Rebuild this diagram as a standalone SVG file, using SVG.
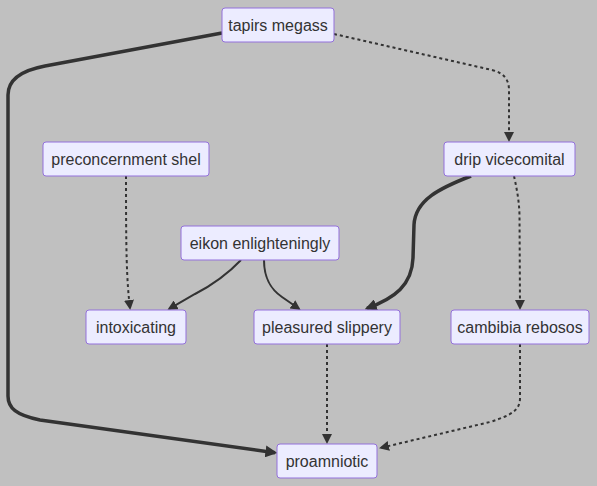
<svg xmlns="http://www.w3.org/2000/svg" width="597" height="486" viewBox="0 0 597 486">
<style>
.bg{fill:#c0c0c0}
.node rect{fill:#ececff;stroke:#9370db;stroke-width:1}
.node text{font-family:"Liberation Sans",Arial,sans-serif;font-size:16px;fill:#333;text-anchor:middle;dominant-baseline:central}
.e{fill:none;stroke:#333;stroke-width:2}
.thick{stroke-width:3.5}
.dot{stroke-dasharray:3 3}
</style>
<defs>
<marker id="arr" viewBox="0 0 10 10" refX="8" refY="5" markerUnits="userSpaceOnUse" markerWidth="10" markerHeight="10" orient="auto">
<path d="M0,0 L10,5 L0,10 z" fill="#333"/>
</marker>
<marker id="arrT" viewBox="0 0 10 10" refX="8" refY="5" markerUnits="userSpaceOnUse" markerWidth="12" markerHeight="12" orient="auto">
<path d="M0,0 L10,5 L0,10 z" fill="#333"/>
</marker>
</defs>
<rect class="bg" x="0" y="0" width="597" height="486"/>
<g id="edges">
<path class="e thick" d="M222,33 L45,66 Q8,73 8,95 L8,396 C8,408 16,415 40,420 L275,452.7" marker-end="url(#arrT)"/>
<path class="e dot" d="M334,34 L492,70 Q509,74 509,90 L509,140" marker-end="url(#arr)"/>
<path class="e dot" d="M126,176 C126,250 126.5,280 130,308" marker-end="url(#arr)"/>
<path class="e" d="M241,260 Q222,280 195,294 L169.2,308.8" marker-end="url(#arr)"/>
<path class="e" d="M264,260 C264,280 272,290 282,297 L299,308.8" marker-end="url(#arr)"/>
<path class="e thick" d="M471,176 C440,188 415,200 414,225 L413,258 C412,285 395,298 367,308.3" marker-end="url(#arrT)"/>
<path class="e dot" d="M514,176 C517,190 519,200 519.5,215 L520,308" marker-end="url(#arr)"/>
<path class="e dot" d="M327,344 L327,442" marker-end="url(#arr)"/>
<path class="e dot" d="M520,344 L520,398 C520,410 512,415 490,422 L381,447.8" marker-end="url(#arr)"/>
</g>
<g id="tapirs-megass" class="node"><rect x="222" y="8" width="112" height="34" rx="3"/><text x="278" y="25">tapirs megass</text></g>
<g id="preconcernment-shel" class="node"><rect x="43" y="142" width="166" height="34" rx="3"/><text x="126" y="159">preconcernment shel</text></g>
<g id="drip-vicecomital" class="node"><rect x="444" y="142" width="131" height="34" rx="3"/><text x="509.5" y="159">drip vicecomital</text></g>
<g id="eikon-enlighteningly" class="node"><rect x="181" y="226" width="158" height="34" rx="3"/><text x="260" y="243">eikon enlighteningly</text></g>
<g id="intoxicating" class="node"><rect x="86" y="310" width="100" height="34" rx="3"/><text x="136" y="327">intoxicating</text></g>
<g id="pleasured-slippery" class="node"><rect x="254" y="310" width="146" height="34" rx="3"/><text x="327" y="327">pleasured slippery</text></g>
<g id="cambibia-rebosos" class="node"><rect x="451" y="310" width="138" height="34" rx="3"/><text x="520" y="327">cambibia rebosos</text></g>
<g id="proamniotic" class="node"><rect x="277" y="444" width="100" height="34" rx="3"/><text x="327" y="461">proamniotic</text></g>
</svg>
